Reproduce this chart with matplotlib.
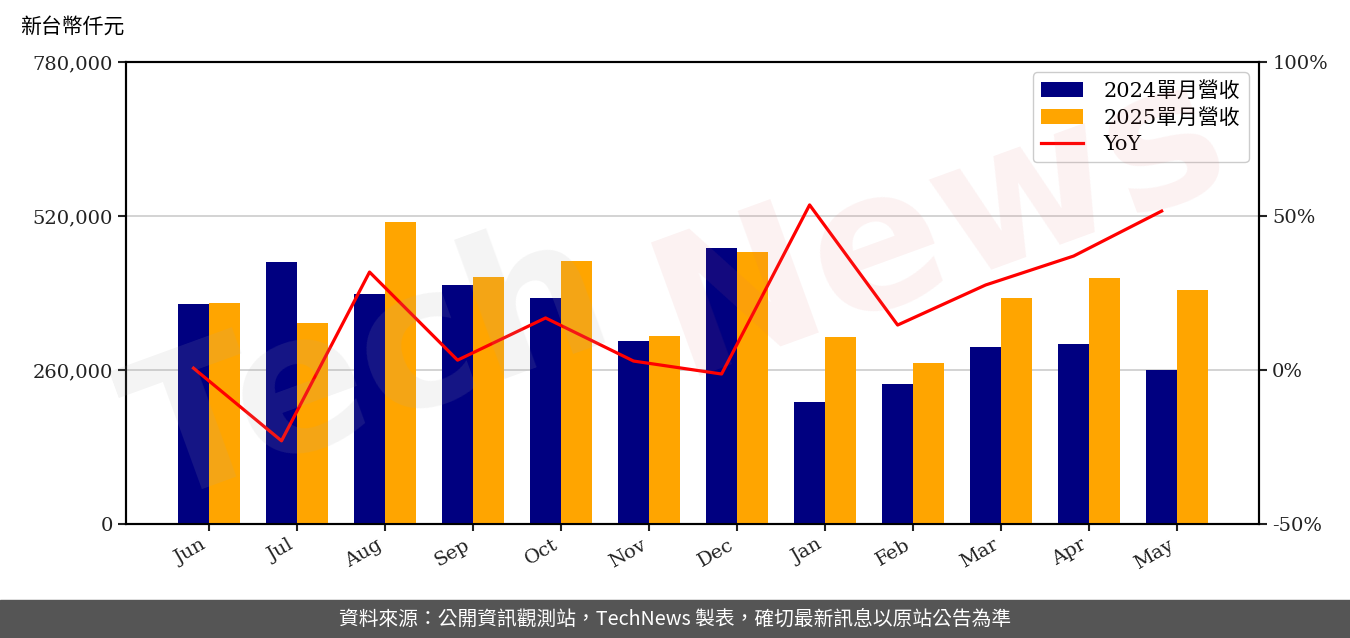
import matplotlib
matplotlib.use("Agg")
import matplotlib.pyplot as plt
import numpy as np
from matplotlib.ticker import FuncFormatter

months = ["Jun", "Jul", "Aug", "Sep", "Oct", "Nov", "Dec", "Jan", "Feb", "Mar", "Apr", "May"]
rev_2024 = [371400, 442300, 388300, 403500, 381500, 309000, 466000, 206000, 236400, 298800, 303900, 260000]
rev_2025 = [373100, 339300, 509900, 417000, 444000, 317400, 459200, 315700, 271800, 381500, 415300, 395000]
yoy = [0.6, -23.0, 31.8, 3.2, 16.9, 2.9, -1.3, 53.6, 14.6, 27.6, 37.0, 51.6]

left_ticks = [0, 260000, 520000, 780000]
right_ticks = [-50, 0, 50, 100]

FONT = ["DejaVu Serif", "Noto Sans CJK TC"]
plt.rcParams["font.family"] = FONT

fig = plt.figure(figsize=(13.5, 6.38), dpi=100)
ax = fig.add_axes([126/1350, 1-524/638, (1259-126)/1350, (524-62)/638])

x = np.arange(len(months))
w = 0.352
ax.bar(x - w/2, rev_2024, w, color="#000080", label="2024單月營收", zorder=3)
ax.bar(x + w/2, rev_2025, w, color="#FFA500", label="2025單月營收", zorder=3)
ax.set_ylim(0, 780000)
ax.set_yticks(left_ticks)
ax.yaxis.set_major_formatter(FuncFormatter(lambda v, p: f"{int(v):,}"))
ax.set_xlim(-0.943, 11.93)
ax.set_xticks(x)
ax.set_xticklabels(months, rotation=30, ha="right", fontsize=14)
ax.tick_params(axis="y", labelsize=14, length=6, width=1.5, colors="#222222")
ax.tick_params(axis="x", length=5, width=1.5, colors="#222222")
ax.grid(axis="y", color="#cccccc", linewidth=1.2, zorder=0)
for s in ax.spines.values():
    s.set_linewidth(1.5)

ax2 = ax.twinx()
ax2.plot(x - w/2, yoy, color="red", linewidth=2.3, label="YoY", zorder=4)
ax2.set_ylim(-50, 100)
ax2.set_yticks(right_ticks)
ax2.yaxis.set_major_formatter(FuncFormatter(lambda v, p: f"{int(v)}%"))
ax2.tick_params(axis="y", labelsize=14, length=6, width=1.5, colors="#222222")
for s in ax2.spines.values():
    s.set_linewidth(1.5)

h1, l1 = ax.get_legend_handles_labels()
h2, l2 = ax2.get_legend_handles_labels()
leg = ax2.legend(h1 + h2, l1 + l2, loc="upper right", framealpha=1,
                 edgecolor="#cccccc", handlelength=2.0, handletextpad=1.0,
                 borderpad=0.4, labelspacing=0.35, prop={"family": FONT, "size": 15})

fig.text(20/1350, 1-27/638, "新台幣仟元", fontsize=15, va="center", ha="left",
         family=["Noto Sans CJK TC"])

# watermark
fig.text(370/1350, 1-370/638, "Tech", fontsize=140, color="#aaaaaa", alpha=0.13,
         rotation=20, ha="center", va="center", fontweight="bold",
         family=["DejaVu Sans"], zorder=0)
fig.text(940/1350, 1-225/638, "News", fontsize=140, color="#e07070", alpha=0.09,
         rotation=20, ha="center", va="center", fontweight="bold",
         family=["DejaVu Sans"], zorder=0)

# footer
fig.patches.append(plt.Rectangle((0, 0), 1, 38/638, transform=fig.transFigure,
                                 color="#555555", zorder=0))
fig.text(0.5, 19/638, "資料來源：公開資訊觀測站，TechNews 製表，確切最新訊息以原站公告為準",
         color="white", fontsize=14.2, ha="center", va="center",
         family=["Noto Sans CJK TC"])

fig.savefig("out.png", dpi=100)
